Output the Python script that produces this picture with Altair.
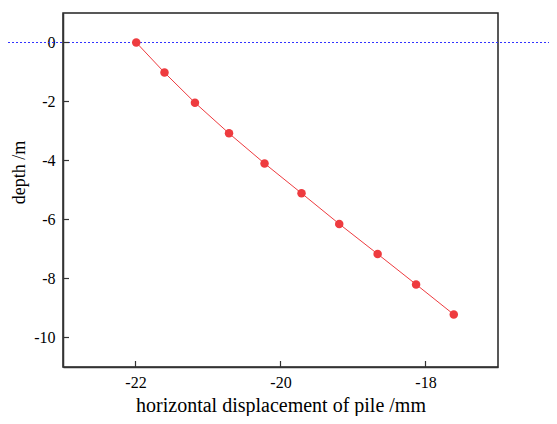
import altair as alt
import pandas as pd

disp = [-21.99, -21.60, -21.18, -20.71, -20.22, -19.71, -19.19, -18.66, -18.13, -17.61]
depth = [0.0, -1.02, -2.04, -3.08, -4.10, -5.11, -6.15, -7.17, -8.20, -9.22]
x_ticks = [-22, -20, -18]
y_ticks = [0, -2, -4, -6, -8, -10]

df = pd.DataFrame({"disp": disp, "depth": depth, "order": list(range(len(disp)))})
xt = pd.DataFrame({"v": x_ticks})
yt = pd.DataFrame({"v": y_ticks})

FONT = "Liberation Serif"
RED = "#EE3B3F"

xscale = alt.Scale(domain=[-23, -17], nice=False, zero=False)
yscale = alt.Scale(domain=[-11, 1], nice=False, zero=False)

base = alt.Chart(df)

line = base.mark_line(color=RED, strokeWidth=1).encode(
    x=alt.X("disp:Q", scale=xscale,
            axis=alt.Axis(title="horizontal displacement of pile /mm", values=x_ticks,
                          labelExpr="'' + datum.value", grid=False, ticks=False,
                          labelFont=FONT, labelFontSize=16,
                          labelPadding=7, titlePadding=5, titleFontSize=20)),
    y=alt.Y("depth:Q", scale=yscale,
            axis=alt.Axis(title="depth /m", values=y_ticks,
                          labelExpr="'' + datum.value", grid=False, ticks=False,
                          labelFont=FONT, labelFontSize=16,
                          labelPadding=8, titlePadding=5, titleFontSize=18,
                          titleY=159)),
    order="order:O",
)
pts = base.mark_circle(color=RED, size=72, opacity=1).encode(
    x=alt.X("disp:Q", scale=xscale), y=alt.Y("depth:Q", scale=yscale)
)

xtick = alt.Chart(xt).mark_rule(color="#333", strokeWidth=1.2).encode(
    x=alt.X("v:Q", scale=xscale), y=alt.value(354), y2=alt.value(348)
)
ytick = alt.Chart(yt).mark_rule(color="#333", strokeWidth=1.2).encode(
    y=alt.Y("v:Q", scale=yscale), x=alt.value(0), x2=alt.value(6)
)

zero = alt.Chart(pd.DataFrame({"z": [0]})).mark_rule(
    color="#3333FF", strokeDash=[2, 2], strokeWidth=1.2, clip=False
).encode(y=alt.Y("z:Q", scale=yscale), x=alt.value(-55), x2=alt.value(486))

chart = alt.layer(zero, line, pts, xtick, ytick).properties(
    width=435, height=354,
    autosize=alt.AutoSizeParams(type="none"),
    padding={"left": 55, "top": 5, "right": 51, "bottom": 49},
).configure_view(stroke="#222", strokeWidth=1.5).configure_axis(
    domainColor="#333", domainWidth=1.5,
    labelFont=FONT, labelFontSize=16, labelColor="black",
    titleFont=FONT, titleFontWeight="normal", titleColor="black",
)

chart.save("out.html", embed_options={"renderer": "svg", "actions": False})
